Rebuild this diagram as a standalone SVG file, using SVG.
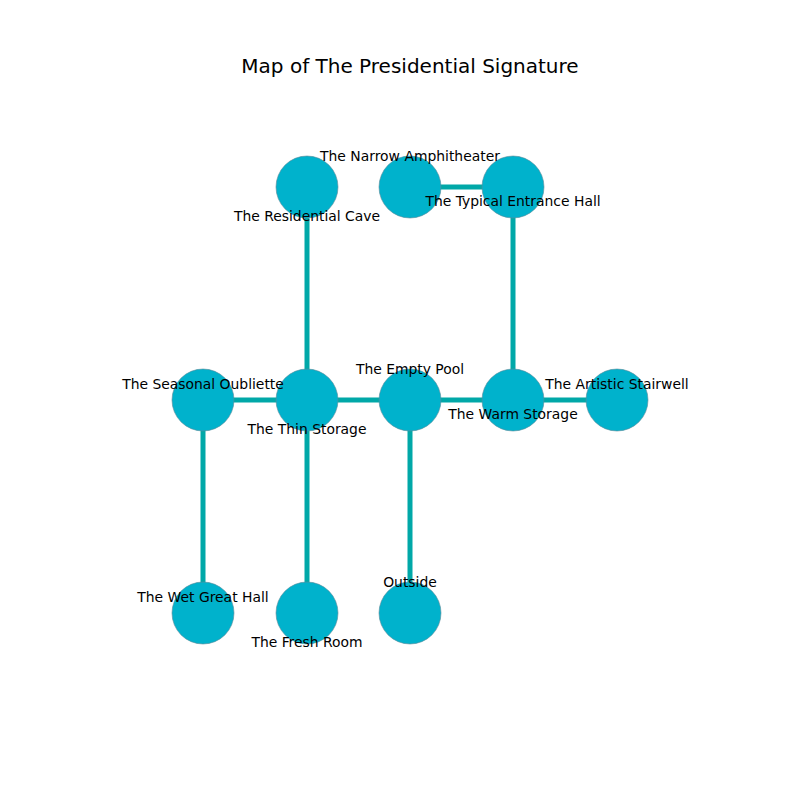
<svg xmlns="http://www.w3.org/2000/svg" width="800" height="800" viewBox="0 0 800 800">
<style>
.bg{fill:#ffffff}
.edge{stroke:#00a8a8;stroke-width:5;fill:none}
.node{fill:#00b2cc;stroke:#5a8a99;stroke-width:0.6}
.lbl{font-family:"DejaVu Sans",sans-serif;font-size:13.9px;fill:#000;text-anchor:middle}
.title{font-family:"DejaVu Sans",sans-serif;font-size:20px;fill:#000;text-anchor:middle}
</style>
<rect class="bg" x="0" y="0" width="800" height="800"/>
<text class="title" x="410" y="73">Map of The Presidential Signature</text>
<g id="connectors">
<line class="edge" x1="307" y1="187" x2="307" y2="400"/>
<line class="edge" x1="410" y1="187" x2="513" y2="187"/>
<line class="edge" x1="513" y1="187" x2="513" y2="400"/>
<line class="edge" x1="203" y1="400" x2="617" y2="400"/>
<line class="edge" x1="203" y1="400" x2="203" y2="613"/>
<line class="edge" x1="307" y1="400" x2="307" y2="613"/>
<line class="edge" x1="410" y1="400" x2="410" y2="613"/>
</g>
<g id="n-residential"><circle class="node" cx="307" cy="187" r="31"/></g>
<g id="n-narrow"><circle class="node" cx="410" cy="187" r="31"/></g>
<g id="n-typical"><circle class="node" cx="513" cy="187" r="31"/></g>
<g id="n-seasonal"><circle class="node" cx="203" cy="400" r="31"/></g>
<g id="n-thin"><circle class="node" cx="307" cy="400" r="31"/></g>
<g id="n-empty"><circle class="node" cx="410" cy="400" r="31"/></g>
<g id="n-warm"><circle class="node" cx="513" cy="400" r="31"/></g>
<g id="n-artistic"><circle class="node" cx="617" cy="400" r="31"/></g>
<g id="n-wet"><circle class="node" cx="203" cy="613" r="31"/></g>
<g id="n-fresh"><circle class="node" cx="307" cy="613" r="31"/></g>
<g id="n-outside"><circle class="node" cx="410" cy="613" r="31"/></g>
<g id="labels">
<text class="lbl" x="307" y="221">The Residential Cave</text>
<text class="lbl" x="410" y="161">The Narrow Amphitheater</text>
<text class="lbl" x="513" y="206">The Typical Entrance Hall</text>
<text class="lbl" x="203" y="389">The Seasonal Oubliette</text>
<text class="lbl" x="307" y="434">The Thin Storage</text>
<text class="lbl" x="410" y="374">The Empty Pool</text>
<text class="lbl" x="513" y="419">The Warm Storage</text>
<text class="lbl" x="617" y="389">The Artistic Stairwell</text>
<text class="lbl" x="203" y="602">The Wet Great Hall</text>
<text class="lbl" x="307" y="647">The Fresh Room</text>
<text class="lbl" x="410" y="587">Outside</text>
</g>
</svg>
